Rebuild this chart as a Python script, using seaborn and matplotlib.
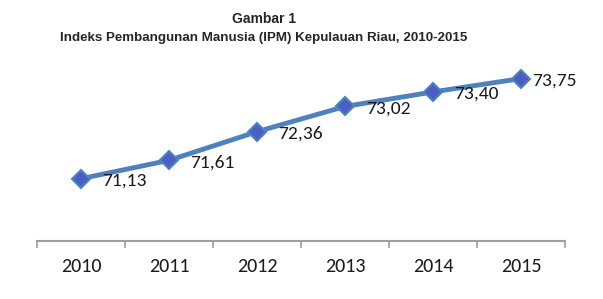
import matplotlib
matplotlib.use("Agg")
import matplotlib.pyplot as plt
import seaborn as sns
import pandas as pd
import numpy as np

years = ["2010", "2011", "2012", "2013", "2014", "2015"]
ipm = [71.13, 71.61, 72.36, 73.02, 73.40, 73.75]
title_lines = ["Gambar 1", "Indeks Pembangunan Manusia (IPM) Kepulauan Riau, 2010-2015"]

sns.set_theme(style="white")
plt.rcParams['font.family'] = ['Carlito', 'Lato', 'DejaVu Sans']

df = pd.DataFrame({"pos": np.arange(len(years)), "ipm": ipm})

fig = plt.figure(figsize=(6.03, 2.99), dpi=100)
ax = fig.add_axes([37/603, 1-241/299, 528/603, 172/299])

sns.lineplot(data=df, x="pos", y="ipm", ax=ax, color="#4f81bd", linewidth=3.5,
             marker="D", markersize=9, markerfacecolor="#4a5ec4",
             markeredgecolor="#4f81bd", markeredgewidth=1.5)

for i, (x, v) in enumerate(zip(df["pos"], ipm)):
    dx = 8 if i == len(ipm) - 1 else 15
    ax.annotate(f"{v:.2f}".replace(".", ","), (x, v), xytext=(dx, -1.5),
                textcoords="offset points", ha="left", va="center",
                fontsize=14, color="#1a1a1a")

ax.set_xlim(-0.5, len(years) - 0.5)
ax.set_ylim(69.5, 74.0)
ax.set_xticks(df["pos"])
ax.set_xticklabels(years, fontsize=14.5, color="#1a1a1a")
ax.set_xticks(np.arange(-0.5, len(years)), minor=True)
ax.tick_params(axis="x", which="major", length=0, pad=12)
ax.tick_params(axis="x", which="minor", length=5, width=1.2, color="#a0a0a0", direction="out", bottom=True)
ax.set_yticks([])
ax.set_xlabel("")
ax.set_ylabel("")
for s in ["top", "right", "left"]:
    ax.spines[s].set_visible(False)
ax.spines["bottom"].set_color("#a0a0a0")
ax.spines["bottom"].set_linewidth(1.5)

tfam = ["Liberation Sans", "DejaVu Sans"]
fig.text(264/603, 1-19/299, title_lines[0], ha="center", va="center", fontsize=10,
         fontweight="bold", family=tfam)
fig.text(264/603, 1-38/299, title_lines[1], ha="center", va="center", fontsize=9.6,
         fontweight="bold", family=tfam)

fig.savefig("out.png", dpi=100, facecolor="white")
